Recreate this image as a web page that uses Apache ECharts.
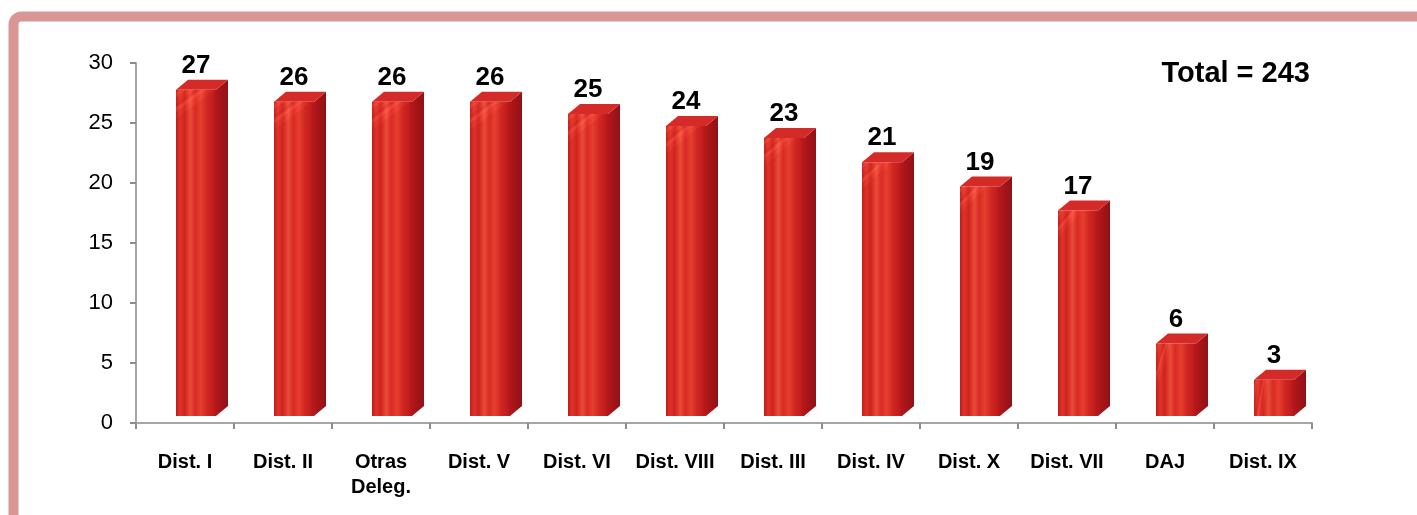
<!DOCTYPE html>
<html>
<head>
<meta charset="utf-8">
<script src="https://cdn.jsdelivr.net/npm/echarts@6/dist/echarts.min.js"></script>
<style>
  html, body { margin: 0; padding: 0; background: #ffffff; }
  #chart { width: 1417px; height: 515px; }
</style>
</head>
<body>
<div id="chart"></div>
<script>
// Cases per district office
const categories = ['Dist. I', 'Dist. II', 'Otras\nDeleg.', 'Dist. V', 'Dist. VI', 'Dist. VIII',
                    'Dist. III', 'Dist. IV', 'Dist. X', 'Dist. VII', 'DAJ', 'Dist. IX'];
const values = [27, 26, 26, 26, 25, 24, 23, 21, 19, 17, 6, 3];
const totalLabel = 'Total = 243';

const FONT = '"Liberation Sans", Arial, sans-serif';

// Front face: vertical streaks of light and dark red
const frontFill = new echarts.graphic.LinearGradient(0, 0, 1, 0, [
  { offset: 0.00, color: '#c81c1c' },
  { offset: 0.10, color: '#e63a2e' },
  { offset: 0.22, color: '#d82622' },
  { offset: 0.36, color: '#f4553e' },
  { offset: 0.48, color: '#e22e28' },
  { offset: 0.62, color: '#f04634' },
  { offset: 0.78, color: '#d82a24' },
  { offset: 0.92, color: '#c82020' },
  { offset: 1.00, color: '#b41818' }
]);
// Slanted light streaks laid over the front face
const streakFill = new echarts.graphic.LinearGradient(0, 0, 0.35, 0.06, [
  { offset: 0.00, color: 'rgba(255,120,90,0)' },
  { offset: 0.18, color: 'rgba(255,120,90,0.28)' },
  { offset: 0.30, color: 'rgba(255,120,90,0)' },
  { offset: 0.52, color: 'rgba(160,10,10,0.18)' },
  { offset: 0.66, color: 'rgba(255,130,100,0.25)' },
  { offset: 0.80, color: 'rgba(255,120,90,0)' },
  { offset: 1.00, color: 'rgba(150,10,10,0.12)' }
]);
streakFill.global = false;
const sideFill = new echarts.graphic.LinearGradient(0, 0, 1, 0, [
  { offset: 0, color: '#b2171b' },
  { offset: 1, color: '#901115' }
]);
const topFill = '#d42a28';

// Depth of the extruded bar and the lift of its front plane above the axis
const DX = 12, DY = 10, LIFT = 7, FRONT_W = 40, FRONT_SHIFT = 9;

function renderBar(params, api) {
  const i = api.value(0);
  const v = api.value(1);
  const c0 = api.coord([i, 0]);
  const cv = api.coord([i, v]);
  const x0 = c0[0] - FRONT_SHIFT;
  const x1 = x0 + FRONT_W;
  const yb = c0[1] - LIFT;
  const yt = yb - (c0[1] - cv[1]) * 1.007;
  return {
    type: 'group',
    children: [
      { type: 'polygon', shape: { points: [[x1, yb], [x1 + DX, yb - DY], [x1 + DX, yt - DY], [x1, yt]] },
        style: { fill: sideFill } },
      { type: 'polygon', shape: { points: [[x0, yt], [x0 + DX, yt - DY], [x1 + DX, yt - DY], [x1, yt]] },
        style: { fill: topFill } },
      { type: 'rect', shape: { x: x0, y: yt, width: FRONT_W, height: yb - yt },
        style: { fill: frontFill } },
      { type: 'rect', shape: { x: x0, y: yt, width: FRONT_W, height: yb - yt },
        style: { fill: streakFill } },
      { type: 'text', x: (x0 + x1) / 2, y: yt - DY - 1,
        style: { text: String(v), font: 'bold 26px ' + FONT, fill: '#000',
                 align: 'center', verticalAlign: 'bottom' } }
    ]
  };
}

const chart = echarts.init(document.getElementById('chart'), null, { renderer: 'canvas' });
chart.setOption({
  animation: false,
  backgroundColor: '#ffffff',
  grid: { left: 136, right: 105, top: 63, bottom: 92, containLabel: false },
  graphic: [
    { type: 'rect', z: -10, silent: true,
      shape: { x: 13.5, y: 16.5, width: 1600, height: 700, r: 8 },
      style: { fill: 'none', stroke: '#d99694', lineWidth: 10 } },
    { type: 'text', right: 107, top: 59, silent: true,
      style: { text: totalLabel, font: 'bold 29px ' + FONT, fill: '#000' } }
  ],
  xAxis: {
    type: 'category',
    data: categories,
    axisLine: { lineStyle: { color: '#a6a6a6', width: 2 } },
    axisTick: { show: true, length: 6, alignWithLabel: false, lineStyle: { color: '#8c8c8c', width: 2 } },
    axisLabel: { color: '#000', fontFamily: FONT, fontWeight: 'bold', fontSize: 20,
                 lineHeight: 25, margin: 27, interval: 0 }
  },
  yAxis: {
    type: 'value', min: 0, max: 30, interval: 5,
    axisLine: { show: true, lineStyle: { color: '#a6a6a6', width: 2 } },
    axisTick: { show: true, length: 6, lineStyle: { color: '#8c8c8c', width: 2 } },
    splitLine: { show: false },
    axisLabel: { color: '#000', fontFamily: FONT, fontSize: 22, margin: 23 }
  },
  series: [{
    type: 'custom',
    renderItem: renderBar,
    encode: { x: 0, y: 1 },
    data: values.map((v, i) => [i, v]),
    clip: false
  }]
});
</script>
</body>
</html>
